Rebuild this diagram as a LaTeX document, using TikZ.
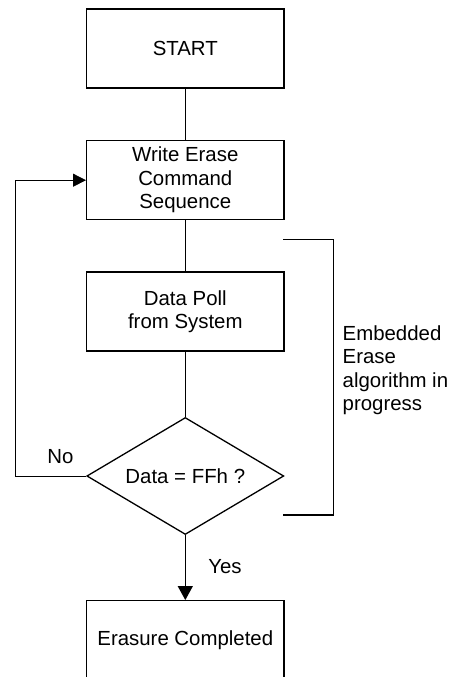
\documentclass[tikz,border=0pt]{standalone}
\usepackage{fontspec}
\setmainfont{Liberation Sans}
\usetikzlibrary{shapes.geometric,arrows.meta}
\begin{document}
\begin{tikzpicture}[x=1pt,y=-1pt,
  every node/.style={font=\fontsize{20.4}{23.5}\selectfont},
  box/.style={draw,line width=1.3pt,rectangle,minimum width=197.3pt,minimum height=79pt,inner sep=0pt,align=center},
  decision/.style={draw,line width=1.3pt,diamond,aspect=1.684,minimum width=197pt,minimum height=117pt,inner sep=0pt},
  conn/.style={line width=1pt},
  thinconn/.style={line width=0.8pt},
  label/.style={inner sep=0pt,align=left}]
\useasboundingbox (0,0) rectangle (461,677);
\clip (0,0) rectangle (461,677);
\node[box] (start) at (185.3,48.5) {START};
\node[box] (write) at (185.3,180.2) {Write Erase\\Command\\Sequence};
\node[box] (poll) at (185.3,311.5) {Data Poll\\from System};
\node[decision] (dec) at (185.3,476) {Data = FFh ?};
\node[box] (done) at (185.3,640.2) {Erasure Completed};
\coordinate (fbl) at (15.7,476);
\coordinate (fbu) at (15.7,180.2);
\coordinate (b1) at (283.3,239.3);
\coordinate (b2) at (333.3,239.3);
\coordinate (b3) at (333.3,515);
\coordinate (b4) at (283.3,515);
\draw[conn] (start) -- (write);
\draw[conn] (write) -- (poll);
\draw[conn] (poll) -- (dec);
\draw[thinconn,-{Triangle[length=13pt,width=13pt]}] (dec.west) -- (fbl) -- (fbu) -- (write.west);
\draw[line width=1.3pt,-{Triangle[length=14pt,width=15pt]}] (dec.south) -- (done.north);
\draw[line width=1.3pt] (b1) -- (b2) -- (b3) -- (b4);
\node[label] (no) at (60.5,456.5) {No};
\node[label] (yes) at (225,567) {Yes};
\node[label,anchor=west] (emb) at (342.5,370) {Embedded\\Erase\\algorithm in\\progress};
\end{tikzpicture}
\end{document}
